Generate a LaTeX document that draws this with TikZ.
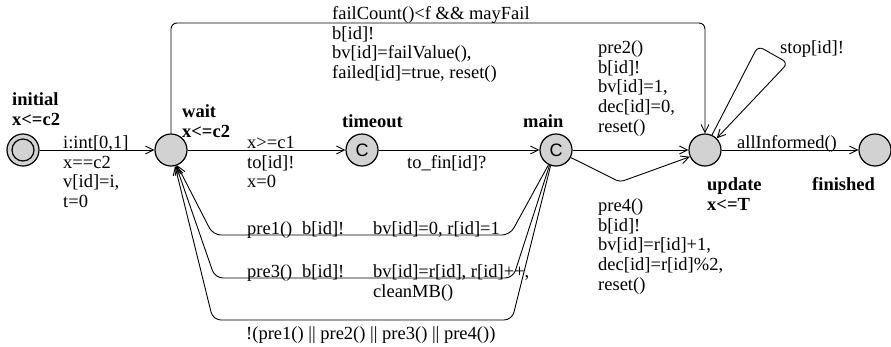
\documentclass[tikz,border=0pt]{standalone}
\usepackage{fontspec}
\setmainfont{Liberation Serif}
\newfontfamily\csans{Liberation Sans}
\usetikzlibrary{arrows.meta}
\newcommand\lstr{\rule{0pt}{14pt}}
\begin{document}
\begin{tikzpicture}[x=1pt,y=-1pt,
  loc/.style={circle, draw, line width=1.2pt, fill=gray!35, minimum size=32pt, inner sep=0pt},
  cloc/.style={loc, font=\csans\fontsize{18}{18}\selectfont},
  lbl/.style={anchor=north west, inner sep=0pt, align=left, font=\fontsize{18.5}{19.8}\selectfont},
  nm/.style={lbl, font=\fontsize{18.5}{19.8}\selectfont\bfseries},
  conn/.style={line width=0.9pt, -{Straight Barb[length=8pt,width=8pt]}},
]
\useasboundingbox (0,0) rectangle (891,346);

% locations
\node[loc] (initial) at (23,150) {};
\draw[line width=1.2pt] (initial.center) circle[radius=11pt];
\node[loc] (wait) at (171,150) {};
\node[cloc] (timeout) at (362,150) {C};
\node[cloc] (main) at (556,150) {C};
\node[loc] (update) at (705,150) {};
\node[loc] (finished) at (875,150) {};

% location names
\node[nm] (ninitial) at (12,91) {\lstr initial\\x<=c2};
\node[nm] (nwait) at (182,103) {\lstr wait\\x<=c2};
\node[nm] (ntimeout) at (342,113) {\lstr timeout};
\node[nm] (nmain) at (523,113) {\lstr main};
\node[nm] (nupdate) at (707,176) {\lstr update\\x<=T};
\node[nm] (nfinished) at (812,176) {\lstr finished};

% coordinates
\coordinate (tl) at (171,23);
\coordinate (tr) at (705,23);
\coordinate (s1) at (758,46);
\coordinate (s2) at (788,63);
\coordinate (m4) at (620,182);
\coordinate (p1r) at (510,235);
\coordinate (p1l) at (213,235);
\coordinate (p3r) at (513,278);
\coordinate (p3l) at (215,278);
\coordinate (nr) at (512,320);
\coordinate (nl) at (213,320);

% edges
\draw[conn] (initial) -- (wait);
\draw[conn] (wait) -- (timeout);
\draw[conn] (timeout) -- (main);
\draw[conn] (main) -- (update);
\draw[conn] (update) -- (finished);
\draw[conn, rounded corners=6pt] (wait) -- (tl) -- (tr) -- (update);
\draw[conn, rounded corners=6pt] (update.65) -- (s1) -- (s2) -- (update.45);
\draw[conn, rounded corners=4pt] (main.-27) -- (m4) -- (update.-156);
\draw[conn, rounded corners=8pt] (main.-117) -- (p1r) -- (p1l) -- (wait.-68);
\draw[conn, rounded corners=8pt] (main.-113) -- (p3r) -- (p3l) -- (wait.-72);
\draw[conn, rounded corners=8pt] (main.-109) -- (nr) -- (nl) -- (wait.-76);

% edge labels
\node[lbl] (l1) at (63,134) {\lstr i:int[0,1]\\x==c2\\v[id]=i,\\t=0};
\node[lbl] (l2) at (247,134) {\lstr x>=c1\\to[id]!\\x=0};
\node[lbl] (l3) at (407,154) {\lstr to\_fin[id]?};
\node[lbl] (l4) at (598,39) {\lstr pre2()\\b[id]!\\bv[id]=1,\\dec[id]=0,\\reset()};
\node[lbl] (l5) at (332,5) {\lstr failCount()<f \&\& mayFail\\b[id]!\\bv[id]=failValue(),\\failed[id]=true, reset()};
\node[lbl] (l6) at (598,197) {\lstr pre4()\\b[id]!\\bv[id]=r[id]+1,\\dec[id]=r[id]\%2,\\reset()};
\node[lbl] (l7) at (780,39) {\lstr stop[id]!};
\node[lbl] (l8) at (737,134) {\lstr allInformed()};
\node[lbl] (l9a) at (247,220) {\lstr pre1()};
\node[lbl] (l9b) at (302,220) {\lstr b[id]!};
\node[lbl] (l9c) at (373,220) {\lstr bv[id]=0, r[id]=1};
\node[lbl] (l10a) at (247,263) {\lstr pre3()};
\node[lbl] (l10b) at (302,263) {\lstr b[id]!};
\node[lbl] (l10c) at (373,263) {\lstr bv[id]=r[id], r[id]++,\\cleanMB()};
\node[lbl] (l11) at (246,325) {\lstr !(pre1() || pre2() || pre3() || pre4())};
\end{tikzpicture}
\end{document}
